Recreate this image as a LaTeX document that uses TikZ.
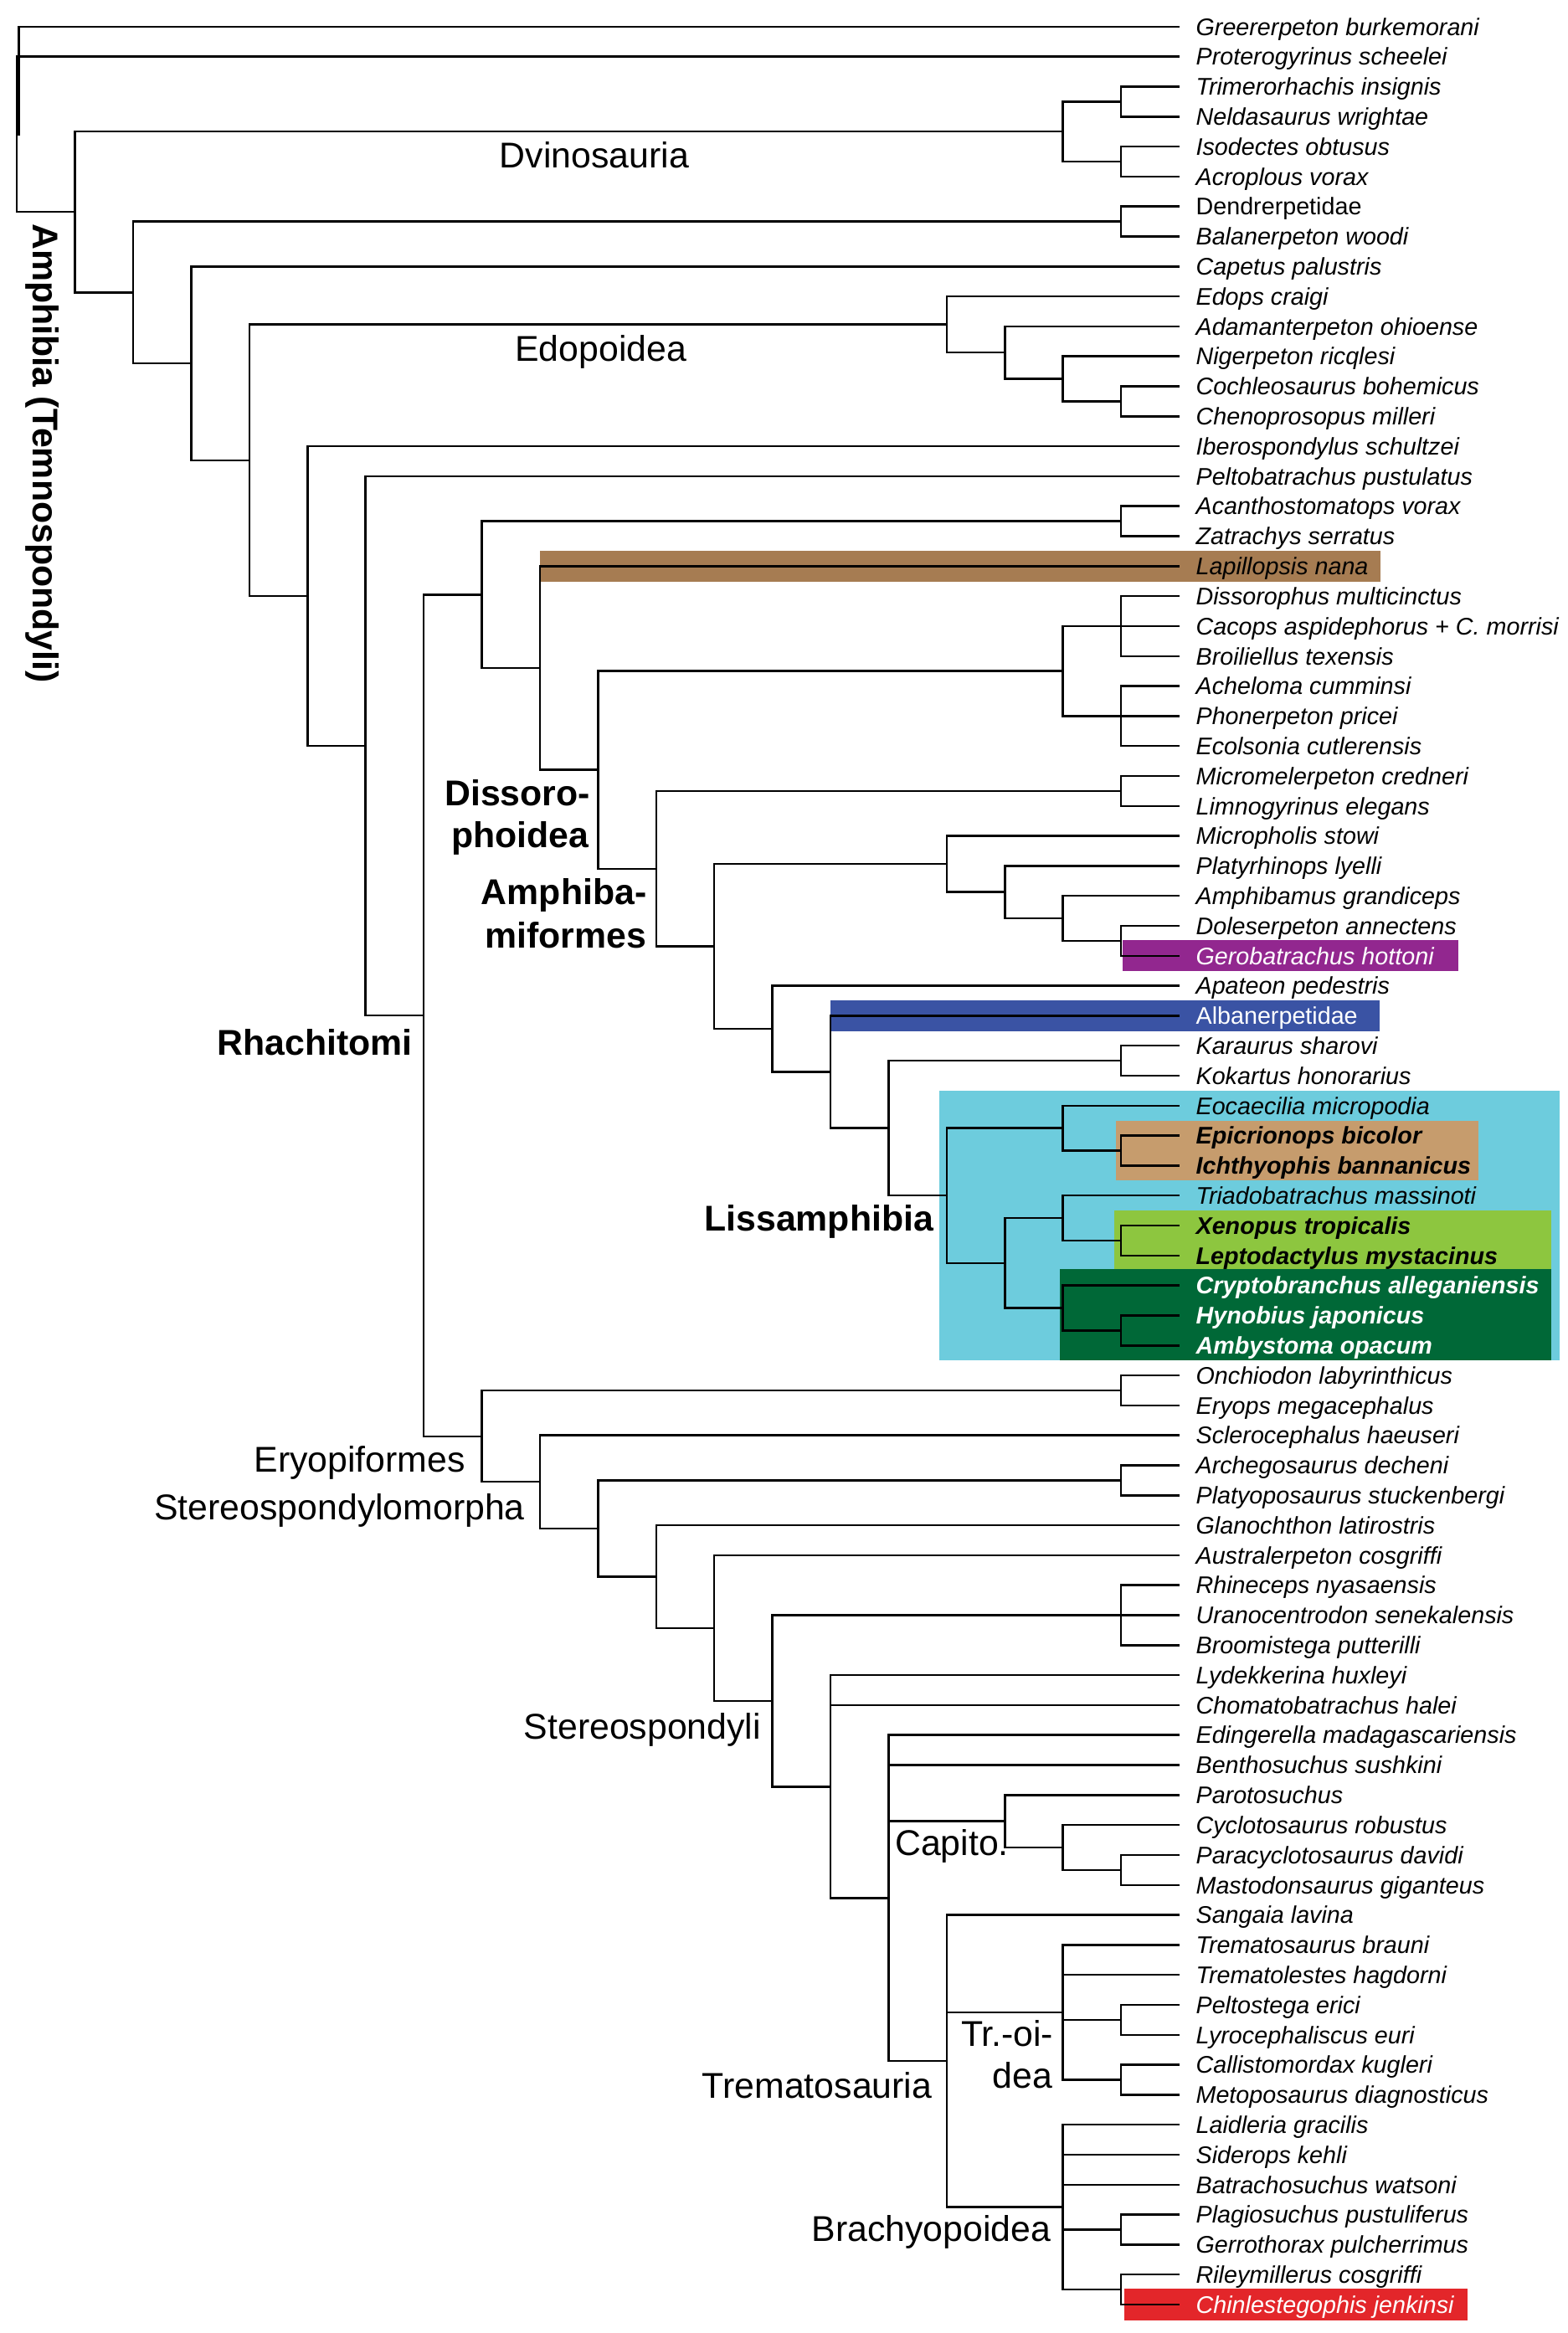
\documentclass[tikz,border=0pt]{standalone}
\usepackage{fontspec}
\setmainfont{Liberation Sans}

\definecolor{lapbrown}{HTML}{A67C52}
\definecolor{gerpurple}{HTML}{92278F}
\definecolor{albblue}{HTML}{3A53A4}
\definecolor{lisscyan}{HTML}{6DCCDD}
\definecolor{caectan}{HTML}{C69C6D}
\definecolor{anugreen}{HTML}{8DC63F}
\definecolor{caudgreen}{HTML}{006837}
\definecolor{chired}{HTML}{E3262A}

\tikzset{
  branch/.style={line width=1.4pt},
  leaf/.style={anchor=west, inner xsep=11pt, inner ysep=0pt, text height=11.5pt, text depth=0pt,
    font=\fontsize{16.1}{18}\selectfont\itshape},
  leafup/.style={leaf, font=\fontsize{16.1}{18}\selectfont\upshape},
  leafbf/.style={leaf, font=\fontsize{16.1}{18}\selectfont\bfseries\itshape},
  leafw/.style={leaf, text=white},
  leafwup/.style={leafup, text=white},
  leafwbf/.style={leafbf, text=white},
  clade/.style={inner sep=0pt, font=\fontsize{24}{28}\selectfont},
  cladebf/.style={clade, font=\fontsize{24}{28}\selectfont\bfseries}
}

\begin{document}
\begin{tikzpicture}[x=1pt, y=-20.08pt]
    \useasboundingbox (0,0.11) rectangle (1050,77.95);

    % Highlight boxes
    \fill[lapbrown] (361.7,18.48) rectangle (925,19.52);
    \fill[gerpurple] (752,31.48) rectangle (977,32.52);
    \fill[albblue] (556.4,33.48) rectangle (924,34.52);
    \fill[lisscyan] (629.5,36.5) rectangle (1045,45.5);
    \fill[caectan] (747.6,37.5) rectangle (990.5,39.5);
    \fill[anugreen] (746.3,40.5) rectangle (1039,42.45);
    \fill[caudgreen] (710,42.45) rectangle (1039,45.5);
    \fill[chired] (753,76.48) rectangle (983,77.52);

    % Taxa
    \foreach \n/\i/\s/\t in {gre/1/leaf/Greererpeton burkemorani, pro/2/leaf/Proterogyrinus scheelei,
      tri/3/leaf/Trimerorhachis insignis, nel/4/leaf/Neldasaurus wrightae, iso/5/leaf/Isodectes obtusus,
      acr/6/leaf/Acroplous vorax, den/7/leafup/Dendrerpetidae, bal/8/leaf/Balanerpeton woodi,
      cap/9/leaf/Capetus palustris, edo/10/leaf/Edops craigi, ada/11/leaf/Adamanterpeton ohioense,
      nig/12/leaf/Nigerpeton ricqlesi, coc/13/leaf/Cochleosaurus bohemicus, che/14/leaf/Chenoprosopus milleri,
      ibe/15/leaf/Iberospondylus schultzei, pel/16/leaf/Peltobatrachus pustulatus,
      aca/17/leaf/Acanthostomatops vorax, zat/18/leaf/Zatrachys serratus, lap/19/leaf/Lapillopsis nana,
      dis/20/leaf/Dissorophus multicinctus, cac/21/leaf/Cacops aspidephorus + C. morrisi,
      bro/22/leaf/Broiliellus texensis, ach/23/leaf/Acheloma cumminsi, pho/24/leaf/Phonerpeton pricei,
      eco/25/leaf/Ecolsonia cutlerensis, mic/26/leaf/Micromelerpeton credneri,
      lim/27/leaf/Limnogyrinus elegans, mph/28/leaf/Micropholis stowi, pla/29/leaf/Platyrhinops lyelli,
      amp/30/leaf/Amphibamus grandiceps, dol/31/leaf/Doleserpeton annectens,
      ger/32/leafw/Gerobatrachus hottoni, apa/33/leaf/Apateon pedestris, alb/34/leafwup/Albanerpetidae,
      kar/35/leaf/Karaurus sharovi, kok/36/leaf/Kokartus honorarius, eoc/37/leaf/Eocaecilia micropodia,
      epi/38/leafbf/Epicrionops bicolor, ich/39/leafbf/Ichthyophis bannanicus,
      tria/40/leaf/Triadobatrachus massinoti, xen/41/leafbf/Xenopus tropicalis,
      lep/42/leafbf/Leptodactylus mystacinus, cry/43/leafwbf/Cryptobranchus alleganiensis,
      hyn/44/leafwbf/Hynobius japonicus, amb/45/leafwbf/Ambystoma opacum,
      onc/46/leaf/Onchiodon labyrinthicus, ery/47/leaf/Eryops megacephalus,
      scl/48/leaf/Sclerocephalus haeuseri, arc/49/leaf/Archegosaurus decheni,
      plt/50/leaf/Platyoposaurus stuckenbergi, gla/51/leaf/Glanochthon latirostris,
      aus/52/leaf/Australerpeton cosgriffi, rhi/53/leaf/Rhineceps nyasaensis,
      ura/54/leaf/Uranocentrodon senekalensis, broo/55/leaf/Broomistega putterilli,
      lyd/56/leaf/Lydekkerina huxleyi, cho/57/leaf/Chomatobatrachus halei,
      edi/58/leaf/Edingerella madagascariensis, ben/59/leaf/Benthosuchus sushkini,
      par/60/leaf/Parotosuchus, cyc/61/leaf/Cyclotosaurus robustus, pcy/62/leaf/Paracyclotosaurus davidi,
      mas/63/leaf/Mastodonsaurus giganteus, san/64/leaf/Sangaia lavina, trm/65/leaf/Trematosaurus brauni,
      trl/66/leaf/Trematolestes hagdorni, pst/67/leaf/Peltostega erici, lyr/68/leaf/Lyrocephaliscus euri,
      cal/69/leaf/Callistomordax kugleri, met/70/leaf/Metoposaurus diagnosticus,
      lai/71/leaf/Laidleria gracilis, sid/72/leaf/Siderops kehli, bat/73/leaf/Batrachosuchus watsoni,
      plg/74/leaf/Plagiosuchus pustuliferus, grr/75/leaf/Gerrothorax pulcherrimus,
      ril/76/leaf/Rileymillerus cosgriffi, chi/77/leafw/Chinlestegophis jenkinsi} {
      \node[\s] (\n) at (790,\i) {\t};
    }

    % Internal nodes
    \foreach \n/\x/\y in {root/12.6/2.795, nb/11.2/4.59, ap/50.3/7.18, dvi/712.1/4.5, dva/751/3.5,
      dvb/751/5.5, a2/89.2/9.867, dnn/751/7.5, a3/128.1/12.234, a4/167.1/15.468, edp/634.2/10.9375,
      ed2/673.2/11.875, ed3/712.1/12.75, ed4/751/13.5, a5/206/19.998, a6/244.9/24.995, rha/283.9/33.99,
      up8/322.8/19.949, ztn/751/17.5, dph/361.7/22.398, d10/400.7/25.797, dtn/712.1/22.5, dsn/751/21,
      acn/751/24, amf/439.6/29.094, mcn/751/26.5, d12/478.5/31.6875, am1/634.2/28.9375,
      am2/673.2/29.875, am3/712.1/30.75, am4/751/31.5, d13/517.4/34.4375, d14/556.4/35.875,
      d15/595.3/37.75, krn/751/35.5, lis/634.2/40, gym/712.1/37.75, gy2/751/38.5, btr/673.2/42.25,
      anu/712.1/40.75, an2/751/41.5, cau/712.1/43.75, ca2/751/44.5, eyf/322.8/48.03, onn/751/46.5,
      stm/361.7/49.55, s10/400.7/51.107, arn/751/49.5, s11/439.6/52.715, sts/478.5/54.43,
      s13/517.4/56.86, rhn/751/54, s14/556.4/59.72, s15/595.3/63.4375, cpt/673.2/60.875,
      cp2/712.1/61.75, cp3/751/62.5, trs/634.2/68.875, tro/712.1/67.25, tr2/751/67.5, tr3/751/69.5,
      brc/712.1/73.75, br2/751/74.5, br3/751/76.5} {
      \coordinate (\n) at (\x,\y);
    }

    % Branches
    \foreach \a/\b in {root/gre, root/nb, nb/pro, nb/ap, ap/dvi, ap/a2, dvi/dva, dvi/dvb, dva/tri,
      dva/nel, dvb/iso, dvb/acr, a2/dnn, a2/a3, dnn/den, dnn/bal, a3/cap, a3/a4, a4/edp, a4/a5,
      edp/edo, edp/ed2, ed2/ada, ed2/ed3, ed3/nig, ed3/ed4, ed4/coc, ed4/che, a5/ibe, a5/a6, a6/pel,
      a6/rha, rha/up8, rha/eyf, up8/ztn, up8/dph, ztn/aca, ztn/zat, dph/lap, dph/d10, d10/dtn,
      d10/amf, dtn/dsn, dtn/acn, dsn/dis, dsn/cac, dsn/bro, acn/ach, acn/pho, acn/eco, amf/mcn,
      amf/d12, mcn/mic, mcn/lim, d12/am1, d12/d13, am1/mph, am1/am2, am2/pla, am2/am3, am3/amp,
      am3/am4, am4/dol, am4/ger, d13/apa, d13/d14, d14/alb, d14/d15, d15/krn, d15/lis, krn/kar,
      krn/kok, lis/gym, lis/btr, gym/eoc, gym/gy2, gy2/epi, gy2/ich, btr/anu, btr/cau, anu/tria,
      anu/an2, an2/xen, an2/lep, cau/cry, cau/ca2, ca2/hyn, ca2/amb, eyf/onn, eyf/stm, onn/onc,
      onn/ery, stm/scl, stm/s10, s10/arn, s10/s11, arn/arc, arn/plt, s11/gla, s11/sts, sts/aus,
      sts/s13, s13/rhn, s13/s14, rhn/rhi, rhn/ura, rhn/broo, s14/lyd, s14/cho, s14/s15, s15/edi,
      s15/ben, s15/cpt, s15/trs, cpt/par, cpt/cp2, cp2/cyc, cp2/cp3, cp3/pcy, cp3/mas, trs/san,
      trs/tro, trs/brc, tro/trm, tro/trl, tro/tr2, tro/tr3, tr2/pst, tr2/lyr, tr3/cal, tr3/met,
      brc/lai, brc/sid, brc/bat, brc/br2, brc/br3, br2/plg, br2/grr, br3/ril, br3/chi} {
      \draw[branch] (\a) |- (\b);
    }

    % Clade names
    \node[cladebf, rotate=-90, anchor=base west] (lbamp) at (22.4,7.56) {Amphibia (Temnospondyli)};
    \node[clade, anchor=base west] (lbdvi) at (334.6,5.70) {Dvinosauria};
    \node[clade, anchor=base west] (lbedp) at (344.9,12.17) {Edopoidea};
    \node[cladebf, anchor=base east] (lbdph1) at (395.5,26.98) {Dissoro-};
    \node[cladebf, anchor=base east] (lbdph2) at (394.5,28.38) {phoidea};
    \node[cladebf, anchor=base east] (lbamf1) at (433.3,30.28) {Amphiba-};
    \node[cladebf, anchor=base east] (lbamf2) at (433.3,31.75) {miformes};
    \node[cladebf, anchor=base west] (lbrha) at (145.5,35.31) {Rhachitomi};
    \node[cladebf, anchor=base east] (lblis) at (625.5,41.17) {Lissamphibia};
    \node[clade, anchor=base west] (lbeyf) at (170.1,49.23) {Eryopiformes};
    \node[clade, anchor=base west] (lbstm) at (103.2,50.81) {Stereospondylomorpha};
    \node[clade, anchor=base east] (lbsts) at (510,58.12) {Stereospondyli};
    \node[clade, anchor=base east] (lbcpt) at (675.9,62.02) {Capito.};
    \node[clade, anchor=base east] (lbtro1) at (705.8,68.37) {Tr.-oi-};
    \node[clade, anchor=base east] (lbtro2) at (705.3,69.78) {dea};
    \node[clade, anchor=base east] (lbtrs) at (624.5,70.12) {Trematosauria};
    \node[clade, anchor=base east] (lbbrc) at (704.2,74.90) {Brachyopoidea};

\end{tikzpicture}
\end{document}
